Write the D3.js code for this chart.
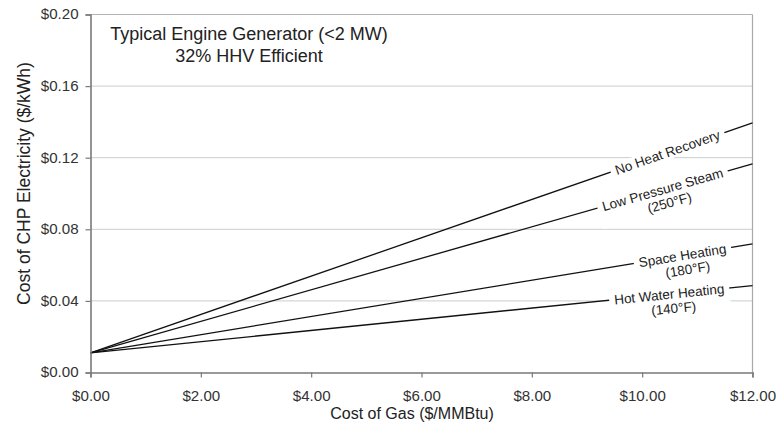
<!DOCTYPE html>
<html><head><meta charset="utf-8">
<script src="https://cdn.jsdelivr.net/npm/d3@7"></script>
<style>body{margin:0;background:#fff}svg{display:block}text{font-family:"Liberation Sans",Arial,sans-serif}</style>
</head><body><svg id="c" width="776" height="435"></svg>
<script>
// ---- data ----
const gasCost = [0, 12];                       // $/MMBtu (x endpoints)
const seriesNames = ["No Heat Recovery", "Low Pressure Steam", "Space Heating", "Hot Water Heating"];
const seriesSub = ["", "(250°F)", "(180°F)", "(140°F)"];
const startCost = [0.011, 0.011, 0.011, 0.011]; // $/kWh at $0 gas
const endCost = [0.1395, 0.1166, 0.0718, 0.0485]; // $/kWh at $12 gas
const labelAt = [10.46, 10.37, 10.73, 10.49];    // gas cost where label sits
const xTicks = [0, 2, 4, 6, 8, 10, 12];
const yTicks = [0, 0.04, 0.08, 0.12, 0.16, 0.20];
const titleLines = ["Typical Engine Generator (<2 MW)", "32% HHV Efficient"];

const svg = d3.select("#c");
const L = 90.5, R = 752.5, T = 14.5, B = 372.5;
const x = d3.scaleLinear().domain([0, 12]).range([L, R]);
const y = d3.scaleLinear().domain([0, 0.20]).range([B, T]);

// gridlines
svg.append("g").selectAll("line").data(yTicks.filter(d => d > 0)).join("line")
  .attr("x1", L).attr("x2", R).attr("y1", d => y(d)).attr("y2", d => y(d))
  .attr("stroke", d => d === 0.20 ? "#b4b4b4" : "#cccccc").attr("stroke-width", 1);
// right border
svg.append("line").attr("x1", R).attr("x2", R).attr("y1", T).attr("y2", B)
  .attr("stroke", "#a8a8a8").attr("stroke-width", 1.2);

// series lines
const series = seriesNames.map((n, i) => ({name: n, sub: seriesSub[i],
  pts: [[gasCost[0], startCost[i]], [gasCost[1], endCost[i]]], at: labelAt[i]}));
const line = d3.line().x(d => x(d[0])).y(d => y(d[1]));
svg.append("g").selectAll("path").data(series).join("path")
  .attr("d", d => line(d.pts)).attr("fill", "none").attr("stroke", "#111").attr("stroke-width", 1.3);

// labels
series.forEach(s => {
  const [p0, p1] = s.pts;
  const v = p0[1] + (p1[1] - p0[1]) * (s.at - p0[0]) / (p1[0] - p0[0]);
  const cx = x(s.at), cy = y(v);
  const ang = Math.atan2(y(p1[1]) - y(p0[1]), x(p1[0]) - x(p0[0])) * 180 / Math.PI;
  const g = svg.append("g").attr("transform", `translate(${cx},${cy}) rotate(${ang})`);
  const rect = g.append("rect").attr("fill", "#fff");
  const t1 = g.append("text").attr("text-anchor", "middle").attr("dy", "0.35em")
    .attr("font-size", 13.5).attr("fill", "#222").text(s.name);
  const w = t1.node().getComputedTextLength();
  let h = 14;
  if (s.sub) {
    g.append("text").attr("text-anchor", "middle").attr("x", 3).attr("y", 14.5).attr("dy", "0.35em")
      .attr("font-size", 13.5).attr("fill", "#222").text(s.sub);
    h = 29;
  }
  rect.attr("x", -w / 2 - 5).attr("y", -7).attr("width", w + 10).attr("height", h);
});

// axes
const fmt = d => "$" + d3.format(".2f")(d);
const yAxis = d3.axisLeft(y).tickValues(yTicks).tickSize(5).tickFormat(fmt);
const gy = svg.append("g").attr("transform", `translate(${L},0)`).call(yAxis);
const xAxis = d3.axisBottom(x).tickValues(xTicks).tickSize(5).tickFormat(fmt);
const gx = svg.append("g").attr("transform", `translate(0,${B})`).call(xAxis);
[gy, gx].forEach(g => {
  g.select(".domain").attr("stroke", "#7a7a7a").attr("stroke-width", 1.6);
  g.selectAll(".tick line").attr("stroke", "#7a7a7a").attr("stroke-width", 1.2);
  g.selectAll(".tick text").attr("font-size", 14).attr("fill", "#333")
    .attr("transform", "scale(1.08,1)")
    .style("font-family", '"Liberation Sans",Arial,sans-serif');
});
gy.selectAll(".tick text").attr("x", -11);
gx.selectAll(".tick text").attr("y", 18.5);

// axis titles
svg.append("text").attr("x", 412).attr("y", 419).attr("text-anchor", "middle")
  .attr("font-size", 16).attr("fill", "#222").text("Cost of Gas ($/MMBtu)");
svg.append("text").attr("transform", "translate(29.5,183.5) rotate(-90)").attr("text-anchor", "middle")
  .attr("font-size", 17.5).attr("fill", "#222").text("Cost of CHP Electricity ($/kWh)");

// title
svg.append("g").selectAll("text").data(titleLines).join("text")
  .attr("x", 249).attr("y", (d, i) => 40 + i * 22).attr("text-anchor", "middle")
  .attr("font-size", 18).attr("fill", "#222").text(d => d);
</script></body></html>
